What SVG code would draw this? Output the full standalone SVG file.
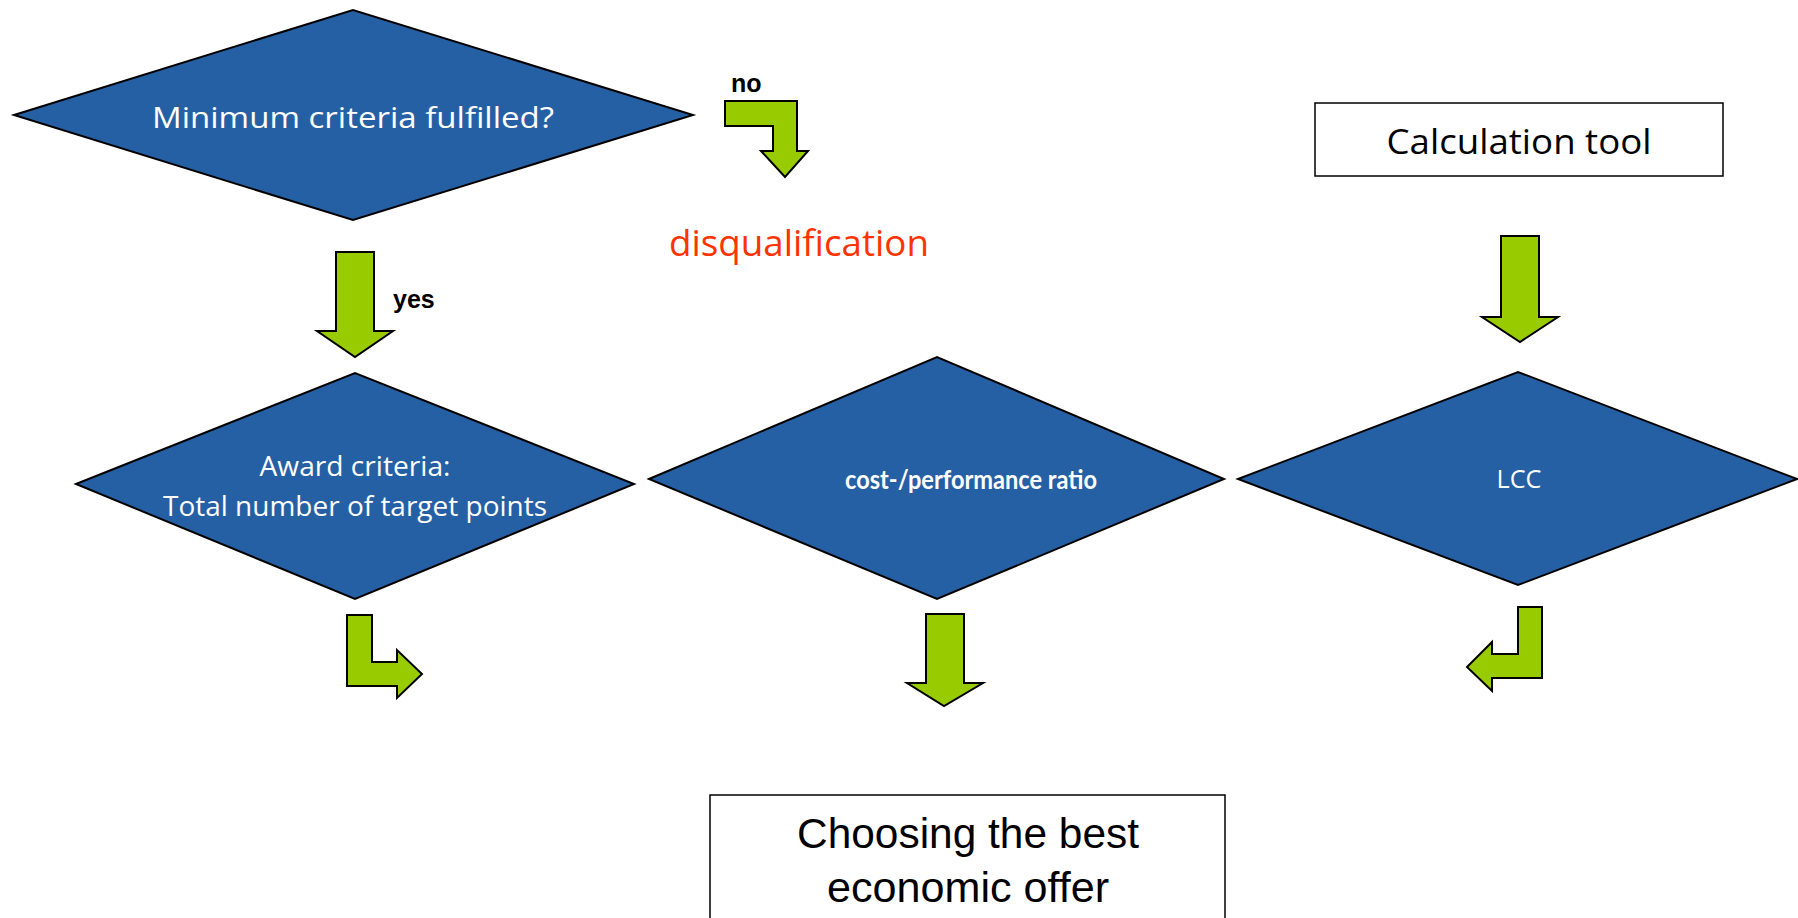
<svg xmlns="http://www.w3.org/2000/svg" width="1798" height="918" viewBox="0 0 1798 918">
<style>
.dia{fill:#2660A4;stroke:#000;stroke-width:2}
.box{fill:#fff;stroke:#000;stroke-width:1.5}
.arr{fill:#99CC00;stroke:#000;stroke-width:2;stroke-linejoin:miter}
.wt{fill:#fff;font-family:"Open Sans","Liberation Sans",sans-serif;text-anchor:middle}
.lbl{fill:#000;font-family:"Liberation Sans",Arial,sans-serif;font-weight:bold;font-size:25px}
.bt{fill:#000;font-family:"Liberation Sans",Arial,sans-serif;text-anchor:middle}
</style>
<rect width="1798" height="918" fill="#fff"/>
<g id="node-minimum">
<polygon class="dia" points="14,115 353,10 693,115 353,220"/>
<text class="wt" x="353" y="128" font-size="30" textLength="402" lengthAdjust="spacingAndGlyphs">Minimum criteria fulfilled?</text>
</g>
<g id="node-disqualification">
<text x="799" y="256" font-family="Open Sans, Liberation Sans, sans-serif" font-size="36" fill="#FF3300" text-anchor="middle" textLength="260" lengthAdjust="spacingAndGlyphs">disqualification</text>
</g>
<g id="node-calc">
<rect class="box" x="1315" y="103" width="408" height="73"/>
<text x="1519" y="154" font-family="Open Sans, Liberation Sans, sans-serif" font-size="34" fill="#000" text-anchor="middle" textLength="265" lengthAdjust="spacingAndGlyphs">Calculation tool</text>
</g>
<g id="node-award">
<polygon class="dia" points="76,484 355,373 634,484 355,599"/>
<text class="wt" x="355" y="476" font-size="27" textLength="191" lengthAdjust="spacingAndGlyphs">Award criteria:</text>
<text class="wt" x="355" y="516" font-size="27" textLength="384" lengthAdjust="spacingAndGlyphs">Total number of target points</text>
</g>
<g id="node-cost">
<polygon class="dia" points="649,479 937,357 1224,479 937,599"/>
<text x="971" y="489" font-family="Lato, 'Open Sans', sans-serif" fill="#fff" text-anchor="middle" font-size="26" font-weight="bold" textLength="252" lengthAdjust="spacingAndGlyphs">cost-/performance ratio</text>
</g>
<g id="node-lcc">
<polygon class="dia" points="1238,479 1518,372 1797,479 1518,585"/>
<text class="wt" x="1519" y="488" font-size="25" textLength="45" lengthAdjust="spacingAndGlyphs">LCC</text>
</g>
<g id="node-choose">
<rect class="box" x="710" y="795" width="515" height="130"/>
<text class="bt" x="968" y="848" font-size="42" textLength="342" lengthAdjust="spacingAndGlyphs">Choosing the best</text>
<text class="bt" x="968" y="902" font-size="42" textLength="282" lengthAdjust="spacingAndGlyphs">economic offer</text>
</g>
<g id="connectors">
<path class="arr" d="M725,101 H797 V151 H808 L785,177 L761,151 H773 V126 H725 Z"/>
<text class="lbl" x="731" y="92">no</text>
<path class="arr" d="M336,252 H374 V331 H393 L355,357 L317,331 H336 Z"/>
<text class="lbl" x="393" y="308">yes</text>
<path class="arr" d="M1501,236 H1539 V317 H1558 L1520,342 L1482,317 H1501 Z"/>
<path class="arr" d="M347,615 H372 V662 H397 V650 L422,674 L397,698 V686 H347 Z"/>
<path class="arr" d="M926,614 H964 V683 H983 L944,706 L907,683 H926 Z"/>
<path class="arr" d="M1518,607 H1542 V678 H1492 V691 L1467,667 L1492,642 V654 H1518 Z"/>
</g>
</svg>
